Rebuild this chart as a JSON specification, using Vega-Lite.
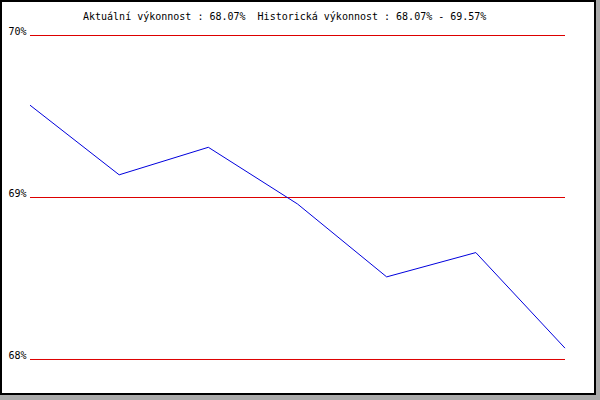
{
  "$schema": "https://vega.github.io/schema/vega-lite/v6.json",
  "autosize": "none",
  "width": 594,
  "height": 393,
  "padding": {"left": 1, "top": 1, "right": 5, "bottom": 6},
  "background": "#aaaaaa",
  "config": {
    "view": {"stroke": "#000000", "strokeWidth": 2, "fill": "#ffffff"},
    "font": "DejaVu Sans Mono"
  },
  "title": {
    "text": "Aktuální výkonnost : 68.07% \u00a0Historická výkonnost : 68.07% - 69.57%",
    "font": "DejaVu Sans Mono",
    "fontSize": 10,
    "fontWeight": "normal",
    "color": "#000000",
    "anchor": "start",
    "frame": "group",
    "baseline": "alphabetic",
    "offset": -16,
    "dx": 82,
    "dy": 13
  },
  "datasets": {
    "perf": [
      {"i": 0, "v": 69.57},
      {"i": 1, "v": 69.14},
      {"i": 2, "v": 69.31},
      {"i": 3, "v": 68.96},
      {"i": 4, "v": 68.51},
      {"i": 5, "v": 68.66},
      {"i": 6, "v": 68.07}
    ],
    "grid": [{"g": 68}, {"g": 69}, {"g": 70}]
  },
  "layer": [
    {
      "data": {"name": "grid"},
      "mark": {"type": "rule", "color": "#dd0000", "strokeWidth": 1},
      "encoding": {
        "y": {
          "field": "g",
          "type": "quantitative",
          "scale": {"domain": [67.787, 70.213], "nice": false, "zero": false},
          "axis": {
            "values": [68, 69, 70],
            "orient": "left",
            "offset": -29,
            "domain": false,
            "ticks": false,
            "grid": false,
            "title": null,
            "labelExpr": "datum.value + '%'",
            "labelFont": "DejaVu Sans Mono",
            "labelFontSize": 10,
            "labelColor": "#000000",
            "labelPadding": 4,
            "labelBaseline": "alphabetic",
            "labelOffset": -1
          }
        },
        "x": {"datum": 0, "type": "quantitative", "scale": {"domain": [-0.3252, 6.3364], "nice": false, "zero": false}, "axis": null},
        "x2": {"datum": 6}
      }
    },
    {
      "data": {"name": "perf"},
      "mark": {"type": "line", "color": "#0000dd", "strokeWidth": 1},
      "encoding": {
        "x": {"field": "i", "type": "quantitative", "axis": null},
        "y": {"field": "v", "type": "quantitative"}
      }
    }
  ]
}
